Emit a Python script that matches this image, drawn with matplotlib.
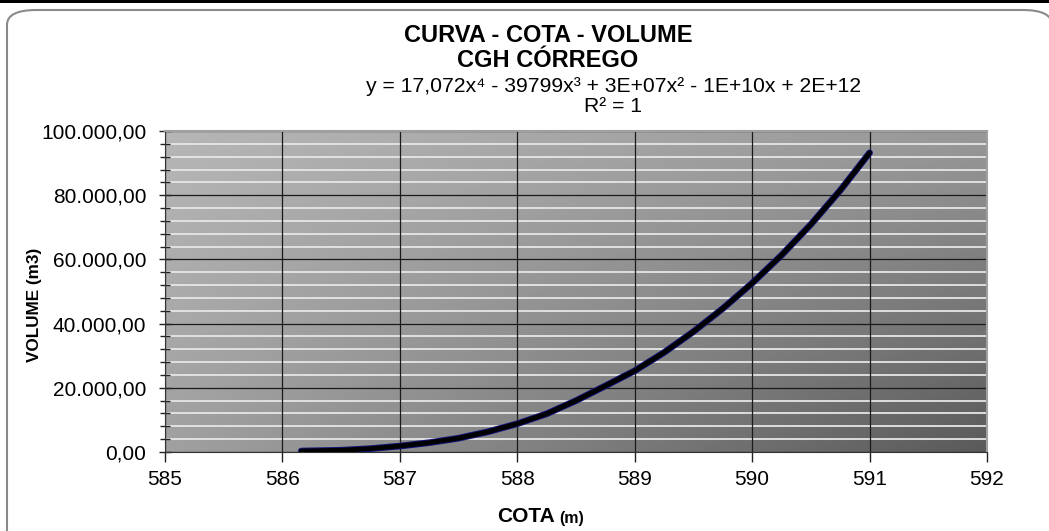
import numpy as np
import matplotlib
matplotlib.use("Agg")
import matplotlib.pyplot as plt
from matplotlib.ticker import MultipleLocator, FuncFormatter
from matplotlib.patches import FancyBboxPatch, Rectangle

plt.rcParams['font.family'] = ['Liberation Sans', 'DejaVu Sans']

# cota (m) vs volume (m3)
cota = [586.16, 586.5, 586.75, 587.0, 587.25, 587.5, 587.75, 588.0, 588.25,
        588.5, 588.75, 589.0, 589.25, 589.5, 589.75, 590.0, 590.25, 590.5,
        590.75, 591.0]
volume = [300, 550, 1050, 1850, 2900, 4300, 6300, 8800, 11900,
          16000, 20600, 25300, 31000, 37500, 44700, 52600, 61300, 70900,
          81500, 93200]

title = "CURVA - COTA - VOLUME\nCGH CÓRREGO"
equation = "y = 17,072x⁴ - 39799x³ + 3E+07x² - 1E+10x + 2E+12"
r2_text = "R² = 1"

W, H = 1049, 531
fig = plt.figure(figsize=(W / 100, H / 100), dpi=100)

# chart frame
fig.patches.append(FancyBboxPatch((7 / W, -40 / H), 1045 / W, (H - 10 + 40) / H,
                                  boxstyle="round,pad=0,rounding_size=0.028",
                                  transform=fig.transFigure, facecolor='white',
                                  edgecolor='#8a8a8a', linewidth=1.5, zorder=-2))
fig.patches.append(Rectangle((0, 1 - 3 / H), 1, 3 / H, transform=fig.transFigure,
                             facecolor='black', edgecolor='none', zorder=-1))

ax = fig.add_axes([165 / W, 79 / H, 822 / W, 321 / H])
ax.set_zorder(2)
ax.set_facecolor('none')
ax.set_axisbelow(True)

# gradient background of the plot area
gx, gy = np.meshgrid(np.linspace(0, 1, 200), np.linspace(1, 0, 200))
tl, bl, tr, br = 182, 160, 152, 90
shade = (tl * (1 - gx) * gy + bl * (1 - gx) * (1 - gy) + tr * gx * gy
         + br * gx * (1 - gy)) / 255.0
ax.imshow(shade, cmap='gray', vmin=0, vmax=1, extent=[0, 1, 0, 1],
          transform=ax.transAxes, aspect='auto', zorder=0, interpolation='bilinear')

ax.set_xlim(585, 592)
ax.set_ylim(0, 100000)
ax.xaxis.set_major_locator(MultipleLocator(1))
ax.yaxis.set_major_locator(MultipleLocator(20000))
ax.yaxis.set_minor_locator(MultipleLocator(4000))
ax.yaxis.set_major_formatter(FuncFormatter(
    lambda v, p: f"{v:,.2f}".replace(',', 'X').replace('.', ',').replace('X', '.')))

ax.grid(which='minor', axis='y', color='#e6e6e6', linewidth=1.3)
ax.grid(which='major', axis='y', color='#1a1a1a', linewidth=0.9)
# vertical gridlines sit on top of the white minor lines
ax.vlines(ax.get_xticks(), 0, 1, transform=ax.get_xaxis_transform(),
          color='#1a1a1a', linewidth=0.9, zorder=2)

ax.plot(cota, volume, color='#14147a', linewidth=4.8, solid_capstyle='round',
        solid_joinstyle='round', zorder=3)
ax.plot(cota, volume, color='black', linewidth=3.4, solid_capstyle='round',
        solid_joinstyle='round', zorder=4)

ax.tick_params(axis='y', which='major', direction='inout', length=9, width=1,
               labelsize=15, pad=9, colors='#222222', labelcolor='black')
ax.tick_params(axis='y', which='minor', direction='inout', length=7, width=1,
               colors='#222222')
ax.tick_params(axis='x', which='major', direction='out', length=7, width=1,
               labelsize=15, pad=6, colors='#222222', labelcolor='black')

for s in ['left', 'bottom']:
    ax.spines[s].set_color('#333333')
for s in ['top', 'right']:
    ax.spines[s].set_color('#a0a0a0')
    ax.spines[s].set_linewidth(1.5)

fig.text(548 / W, 1 - 48 / H, title, ha='center', va='center', fontsize=17,
         fontweight='bold', linespacing=1.12)
fig.text(614 / W, 1 - 86 / H, equation, ha='center', va='center', fontsize=15.2)
fig.text(613 / W, 1 - 107 / H, r2_text, ha='center', va='center', fontsize=15.2)

fig.text(555 / W, 1 - 517 / H, "COTA", ha='right', va='center', fontsize=15,
         fontweight='bold')
fig.text(559 / W, 1 - 518 / H, "(m)", ha='left', va='center', fontsize=11.5,
         fontweight='bold')
fig.text(34 / W, 1 - 305 / H, "VOLUME (m3)", ha='center', va='center', fontsize=12.3,
         fontweight='bold', rotation=90)

fig.savefig("out.png", dpi=100)
